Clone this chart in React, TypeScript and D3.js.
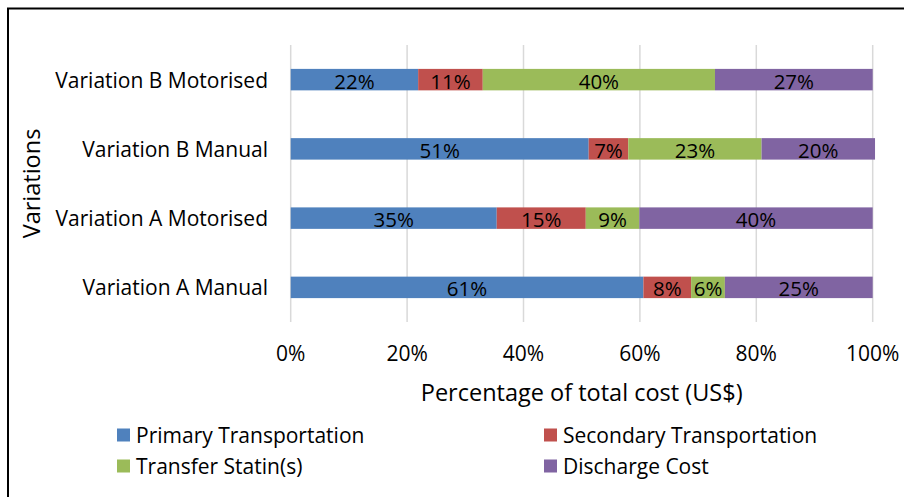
import React from "react";
import * as d3 from "d3";

const categories = ["Variation B Motorised", "Variation B Manual", "Variation A Motorised", "Variation A Manual"];
const seriesNames = ["Primary Transportation", "Secondary Transportation", "Transfer Statin(s)", "Discharge Cost"];
const primary = [21.9, 51.2, 35.4, 60.6];
const secondary = [11.1, 6.8, 15.3, 8.2];
const transfer = [39.9, 22.9, 9.2, 5.8];
const discharge = [27.1, 19.5, 40.1, 25.4];
const xTicks = [0, 20, 40, 60, 80, 100];
const colors = ["#4F81BD", "#C0504D", "#9BBB59", "#8064A2"];

const FONT = "'Open Sans', Lato, sans-serif";

export default function App() {
  const W = 904, H = 497;
  const x = d3.scaleLinear().domain([0, 100]).range([290.7, 872.7]);
  const y = d3.scaleBand<string>().domain(categories).range([45, 322]).paddingInner(0.69).paddingOuter(0.345);
  const rows = categories.map((c, i) => ({
    cat: c,
    primary: primary[i],
    secondary: secondary[i],
    transfer: transfer[i],
    discharge: discharge[i],
  }));
  const keys = ["primary", "secondary", "transfer", "discharge"];
  const stack = d3.stack<any>().keys(keys)(rows);

  const legendPos = [
    [117, 435], [544, 435], [117, 466], [544, 466],
  ];

  return (
    <svg width={W} height={H} style={{ position: "absolute", left: 0, top: 0, background: "#fff" }} fontFamily={FONT}>
      <rect x={0} y={0} width={W} height={H} fill="#fff" />
      <path d={`M8,${H + 5} L8,8.5 L${W + 5},8.5`} fill="none" stroke="#000" strokeWidth={2} />
      {xTicks.map((t) => (
        <g key={t}>
          <line x1={x(t)} x2={x(t)} y1={45} y2={322} stroke="#d9d9d9" strokeWidth={1.5} />
          <text x={x(t)} y={353} textAnchor="middle" dominantBaseline="central" fontSize={21} fill="#000">{t}%</text>
        </g>
      ))}
      {stack.map((s, si) => (
        <g key={si}>
          {s.map((d: any, i: number) => {
            const x0 = x(d[0]), x1 = x(d[1]);
            const yy = y(d.data.cat)!;
            const v = d[1] - d[0];
            return (
              <g key={i}>
                <rect x={x0} y={yy} width={x1 - x0} height={y.bandwidth()} fill={colors[si]} />
                <text x={(x0 + x1) / 2} y={yy + y.bandwidth() / 2 + 1} textAnchor="middle" dominantBaseline="central" fontSize={20.5} fill="#000">
                  {Math.round(v)}%
                </text>
              </g>
            );
          })}
        </g>
      ))}
      {categories.map((c) => (
        <text key={c} x={268} y={y(c)! + y.bandwidth() / 2} textAnchor="end" dominantBaseline="central" fontSize={21} fill="#000">{c}</text>
      ))}
      <text transform={`translate(31,183.5) rotate(-90)`} textAnchor="middle" dominantBaseline="central" fontSize={23.5} fill="#000">Variations</text>
      <text x={581.7} y={392} textAnchor="middle" dominantBaseline="central" fontSize={23.5} fill="#000">Percentage of total cost (US$)</text>
      {seriesNames.map((n, i) => (
        <g key={n}>
          <rect x={legendPos[i][0]} y={legendPos[i][1] - 6.5} width={13} height={13} fill={colors[i]} />
          <text x={legendPos[i][0] + 19} y={legendPos[i][1]} dominantBaseline="central" fontSize={21} fill="#000">{n}</text>
        </g>
      ))}
    </svg>
  );
}
